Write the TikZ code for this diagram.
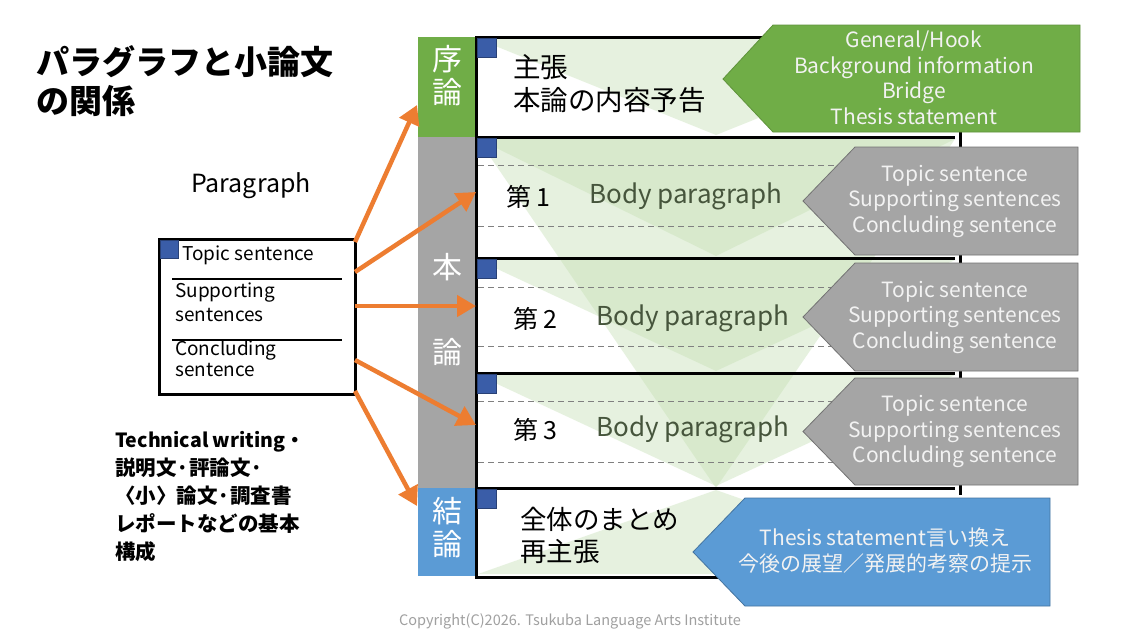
\documentclass[tikz,border=0pt]{standalone}
\usepackage{fontspec}
\setmainfont{Noto Sans CJK JP}
\usetikzlibrary{arrows.meta}
\definecolor{ogreen}{HTML}{70AD47}
\definecolor{ogray}{HTML}{A5A5A5}
\definecolor{oblue}{HTML}{5B9BD5}
\definecolor{sqblue}{HTML}{3A5DA8}
\definecolor{orng}{HTML}{ED7D31}
\definecolor{shade}{HTML}{C5E0B4}
\definecolor{bodytxt}{HTML}{46553C}
\definecolor{copyc}{HTML}{A0A0A0}
\tikzset{
  frame/.style={line width=3pt, draw=black},
  sqr/.style={fill=sqblue, draw=sqblue!70!black, line width=0.6pt, minimum size=19pt, inner sep=0pt, anchor=north west},
  lbl/.style={text=white, font=\fontsize{30}{33}\selectfont, align=center, inner sep=0pt},
  arr/.style={draw=orng, line width=4.5pt, -{Triangle[length=19pt,width=21pt]}},
  ctext/.style={text=white!95!black, font=\fontsize{21}{25.5}\selectfont, align=center, inner sep=0pt},
  jtext/.style={font=\fontsize{27.5}{33}\selectfont, align=left, anchor=west, inner sep=0pt},
  bodyp/.style={text=bodytxt, font=\fontsize{26}{30}\selectfont, anchor=west, inner sep=0pt},
  num/.style={font=\fontsize{25}{30}\selectfont, anchor=west, inner sep=0pt},
  dline/.style={draw=gray, line width=1pt, dash pattern=on 6pt off 4pt},
  shd/.style={fill=shade, fill opacity=0.42},
  ptext/.style={font=\fontsize{19}{24}\selectfont, anchor=west, inner sep=0pt},
}
\begin{document}
\begin{tikzpicture}[x=1pt,y=-1pt]
\useasboundingbox[fill=white] (0,0) rectangle (1140,641);

% title
\node[anchor=north west, inner sep=0pt, align=left, font=\fontsize{33}{39}\selectfont\bfseries] (title) at (36,45) {パラグラフと小論文\\の関係};

% paragraph box
\node[font=\fontsize{25}{28}\selectfont, inner sep=0pt] (ptitle) at (251,186) {Paragraph};
\node[draw=black, line width=2.5pt, minimum width=196pt, minimum height=155pt, inner sep=0pt, anchor=north west] (pbox) at (158,238) {};
\node[sqr, minimum size=18pt] (psq) at (160,240) {};
\draw[line width=2pt] (172,279) coordinate (pl1a) -- (342,279) coordinate (pl1b);
\draw[line width=2pt] (172,340) coordinate (pl2a) -- (342,340) coordinate (pl2b);
\node[ptext] (pt1) at (182,255) {Topic sentence};
\node[ptext, align=left, anchor=north west] (pt2) at (175,283) {Supporting\\sentences};
\node[ptext, align=left, anchor=north west, font=\fontsize{19}{21}\selectfont] (pt3) at (175,340) {Concluding\\sentence};

% bottom-left text
\node[anchor=north west, inner sep=0pt, align=left, font=\fontsize{20.5}{28}\selectfont\bfseries] (types) at (115,431) {{\fontsize{19.5}{28}\selectfont Technical writing・}\\説明文·評論文·\\〈小〉論文·調査書\\レポートなどの基本\\構成};

% shading
\fill[shd] (478,39) -- (955,39) -- (716,135) -- cycle;
\fill[shd] (478,139) -- (955,139) -- (716,488) -- cycle;
\fill[shd] (478,139) -- (955,139) -- (716,256) -- cycle;
\fill[shd] (478,260) -- (955,260) -- (716,371) -- cycle;
\fill[shd] (478,375) -- (955,375) -- (716,486) -- cycle;
\fill[shd] (716,490) -- (955,574) -- (478,574) -- cycle;

% dashed lines
\foreach \yy in {165,226,287,346,401,462}{
  \draw[dline] (478,\yy) -- (900,\yy);
}

% section labels
\fill[ogreen] (418,37) rectangle (476,137);
\fill[ogray] (418,137) rectangle (476,488);
\fill[oblue] (418,488) rectangle (476,576);
\node[lbl] (lintro) at (447,76) {序\\論};
\node[lbl] (lhon) at (447,267) {本};
\node[lbl] (lron) at (447,352) {論};
\node[lbl] (lconc) at (447,528) {結\\論};

% frames
\draw[frame] (960,37) -- (476,37) -- (476,577) -- (740,577);
\draw[frame] (476,137) -- (955,137);
\draw[frame] (476,258) -- (955,258);
\draw[frame] (476,373) -- (955,373);
\draw[frame] (476,488) -- (955,488);
\draw[frame] (960,36) -- (960,495);

% blue squares
\foreach \yy in {38,138,259,374,489}{
  \node[sqr] at (477,\yy) {};
}

% section texts
\node[jtext] (intro) at (513,84) {主張\\本論の内容予告};
\node[num] (n1) at (506,197) {第 1};
\node[bodyp] (b1) at (589,196) {Body paragraph};
\node[num] (n2) at (513,319) {第 2};
\node[bodyp] (b2) at (596,318) {Body paragraph};
\node[num] (n3) at (513,430) {第 3};
\node[bodyp] (b3) at (596,429) {Body paragraph};
\node[jtext, font=\fontsize{26.5}{32}\selectfont] (conc) at (520,535) {全体のまとめ\\再主張};

% callouts
\filldraw[fill=ogreen, draw=ogreen!85!black, line width=0.8pt] (723,79) -- (773,25) -- (1080,25) -- (1080,132) -- (773,132) -- cycle;
\node[ctext] (c0) at (914,78) {General/Hook\\Background information\\Bridge\\Thesis statement};
\foreach \yt/\yb/\nm in {147/255/c1, 263/371/c2, 378/485/c3}{
  \filldraw[fill=ogray, draw=ogray!70!black, line width=0.8pt] (803,{(\yt+\yb)/2}) -- (855,\yt) -- (1078,\yt) -- (1078,\yb) -- (855,\yb) -- cycle;
  \node[ctext] (\nm) at (955,{(\yt+\yb)/2}) {Topic sentence\\Supporting sentences\\Concluding sentence};
}
\filldraw[fill=oblue, draw=oblue!75!black, line width=0.8pt] (693,552) -- (745,498) -- (1050,498) -- (1050,606) -- (745,606) -- cycle;
\node[ctext, font=\fontsize{21}{26}\selectfont] (c4) at (885,551) {Thesis statement言い換え\\今後の展望／発展的考察の提示};

% arrows
\coordinate (s1) at (355,242);
\coordinate (s2) at (355,272);
\coordinate (s3) at (355,306);
\coordinate (s4) at (355,360);
\coordinate (s5) at (355,391);
\coordinate (t1) at (417,105);
\coordinate (t2) at (476,192);
\coordinate (t3) at (476,306);
\coordinate (t4) at (476,425);
\coordinate (t5) at (417,506);
\draw[arr] (s1) -- (t1);
\draw[arr] (s2) -- (t2);
\draw[arr] (s3) -- (t3);
\draw[arr] (s4) -- (t4);
\draw[arr] (s5) -- (t5);

% copyright
\node[text=copyc, font=\fontsize{14.5}{16}\selectfont, inner sep=0pt] (copy) at (570,621) {Copyright(C)2026. Tsukuba Language Arts Institute};
\end{tikzpicture}
\end{document}
